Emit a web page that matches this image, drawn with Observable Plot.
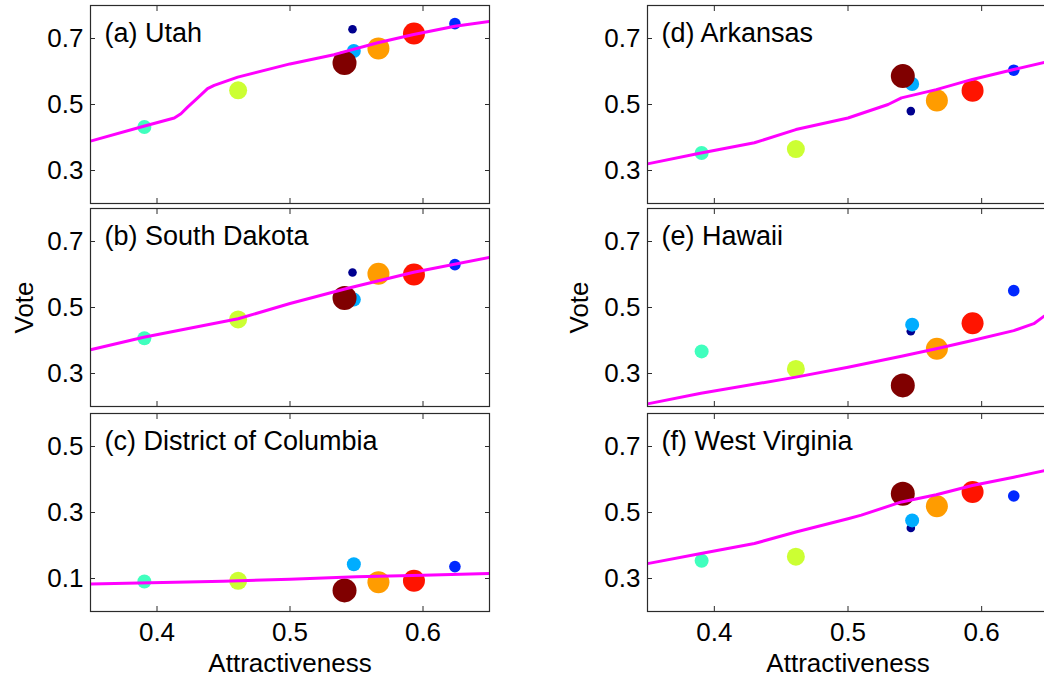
<!DOCTYPE html>
<html><head><meta charset="utf-8">
<script src="https://cdn.jsdelivr.net/npm/d3@7"></script>
<script src="https://cdn.jsdelivr.net/npm/@observablehq/plot@0.6"></script>
<style>
body{margin:0;background:#fff;}
#fig{position:relative;width:1044px;height:681px;overflow:hidden;background:#fff;}
#fig svg{position:absolute;}
</style></head><body><div id="fig"></div>
<script>
// Groups (drawn in this order; later ones on top)
const groups = ["g1","g2","g3","g4","g5","g6","g7","g8"];
const groupColors = ["#00008f","#0028ff","#00adff","#40ffbe","#ccff33","#ff9c00","#ff1400","#800000"];
const attractiveness = [0.547, 0.624, 0.548, 0.3905, 0.461, 0.5665, 0.5932, 0.541];
const markerSize = [4.3, 5.8, 7, 7, 9, 11, 11, 12];

const xTicks = [0.4, 0.5, 0.6];
const yTicksMain = [0.3, 0.5, 0.7];
const yTicksDC = [0.1, 0.3, 0.5];

// Observed votes per state (same group order)
const voteUtah = [0.728, 0.745, 0.662, 0.432, 0.543, 0.670, 0.715, 0.626];
const voteSouthDakota = [0.606, 0.630, 0.524, 0.407, 0.464, 0.602, 0.600, 0.529];
const voteDC = [0.142, 0.136, 0.143, 0.091, 0.093, 0.089, 0.093, 0.064];
const voteArkansas = [0.480, 0.604, 0.562, 0.353, 0.365, 0.512, 0.542, 0.586];
const voteHawaii = [0.428, 0.551, 0.448, 0.367, 0.314, 0.375, 0.452, 0.264];
const voteWestVirginia = [0.453, 0.550, 0.476, 0.354, 0.366, 0.519, 0.562, 0.557];

// Fitted curves (magenta)
const fitUtahX = [0.35, 0.39, 0.413, 0.418, 0.423, 0.4306, 0.438, 0.443, 0.4607, 0.5, 0.533, 0.566, 0.593, 0.624, 0.65];
const fitUtahY = [0.389, 0.434, 0.459, 0.472, 0.492, 0.520, 0.548, 0.558, 0.583, 0.623, 0.651, 0.687, 0.712, 0.737, 0.752];
const fitSouthDakotaX = [0.35, 0.39, 0.461, 0.5, 0.542, 0.593, 0.65];
const fitSouthDakotaY = [0.372, 0.410, 0.466, 0.512, 0.557, 0.607, 0.652];
const fitDCX = [0.35, 0.45, 0.5, 0.55, 0.6, 0.65];
const fitDCY = [0.083, 0.092, 0.098, 0.105, 0.110, 0.115];
const fitArkansasX = [0.35, 0.39, 0.43, 0.461, 0.5, 0.53, 0.54, 0.566, 0.593, 0.624, 0.6475, 0.65];
const fitArkansasY = [0.320, 0.353, 0.384, 0.424, 0.459, 0.500, 0.520, 0.545, 0.576, 0.606, 0.628, 0.630];
const fitHawaiiX = [0.35, 0.39, 0.461, 0.5, 0.54, 0.566, 0.593, 0.624, 0.639, 0.6475, 0.65];
const fitHawaiiY = [0.208, 0.240, 0.289, 0.319, 0.352, 0.375, 0.400, 0.430, 0.451, 0.476, 0.49];
const fitWestVirginiaX = [0.35, 0.39, 0.43, 0.461, 0.5, 0.51, 0.54, 0.566, 0.593, 0.624, 0.6475, 0.65];
const fitWestVirginiaY = [0.345, 0.376, 0.406, 0.441, 0.481, 0.492, 0.532, 0.554, 0.582, 0.607, 0.627, 0.629];

const panels = [
  {label: "(a) Utah", votes: voteUtah, fx: fitUtahX, fy: fitUtahY, yDomain: [0.2, 0.8], yTicks: yTicksMain, col: 0, row: 0},
  {label: "(b) South Dakota", votes: voteSouthDakota, fx: fitSouthDakotaX, fy: fitSouthDakotaY, yDomain: [0.2, 0.8], yTicks: yTicksMain, col: 0, row: 1},
  {label: "(c) District of Columbia", votes: voteDC, fx: fitDCX, fy: fitDCY, yDomain: [0, 0.6], yTicks: yTicksDC, col: 0, row: 2},
  {label: "(d) Arkansas", votes: voteArkansas, fx: fitArkansasX, fy: fitArkansasY, yDomain: [0.2, 0.8], yTicks: yTicksMain, col: 1, row: 0},
  {label: "(e) Hawaii", votes: voteHawaii, fx: fitHawaiiX, fy: fitHawaiiY, yDomain: [0.2, 0.8], yTicks: yTicksMain, col: 1, row: 1},
  {label: "(f) West Virginia", votes: voteWestVirginia, fx: fitWestVirginiaX, fy: fitWestVirginiaY, yDomain: [0.2, 0.8], yTicks: yTicksMain, col: 1, row: 2}
];

const colLeft = [89.5, 646.5];
const colW = [399, 401];
const rowTop = [5, 208.3, 412.7];
const plotH = 198;
const mL = 90, mR = 10, mT = 5;
const fig = document.getElementById("fig");
const fmt = d3.format(".1f");
const blank = () => "";

for (const p of panels) {
  const bottom = p.row === 2;
  const mB = bottom ? 70 : 4;
  const w = colW[p.col];
  const idx = groups.map((g, i) => i);
  const fit = p.fx.map((x, i) => ({x, y: p.fy[i]}));
  const svg = Plot.plot({
    width: mL + w + mR,
    height: mT + plotH + mB,
    marginLeft: mL, marginRight: mR, marginTop: mT, marginBottom: mB,
    style: {background: "transparent", fontFamily: "'Liberation Sans', Arial, sans-serif", fontSize: "26px", color: "#000", overflow: "visible"},
    x: {domain: [0.35, 0.65]},
    y: {domain: p.yDomain},
    r: {type: "identity"},
    color: {type: "identity"},
    marks: [
      Plot.dot(idx, {x: i => attractiveness[i], y: i => p.votes[i], r: i => markerSize[i], fill: i => groupColors[i], sort: null}),
      Plot.line(fit, {x: "x", y: "y", stroke: "#ff00ff", strokeWidth: 3, clip: true}),
      Plot.frame({stroke: "#2b2b2b", strokeWidth: 1.2}),
      Plot.axisX(xTicks, {anchor: "bottom", tickSize: -5, tickPadding: 16, tickFormat: bottom ? fmt : blank,
        label: bottom ? "Attractiveness" : null, labelAnchor: "center", labelOffset: 60, labelArrow: "none", stroke: "#2b2b2b", fill: "#000"}),
      Plot.axisX(xTicks, {anchor: "top", tickSize: -5, tickFormat: blank, label: null, stroke: "#2b2b2b"}),
      Plot.axisY(p.yTicks, {anchor: "left", tickSize: -5, tickPadding: 12, tickFormat: fmt,
        label: p.row === 1 ? "Vote" : null, labelAnchor: "center", labelOffset: p.col === 0 ? 76 : 78, labelArrow: "none", stroke: "#2b2b2b", fill: "#000"}),
      Plot.axisY(p.yTicks, {anchor: "right", tickSize: -5, tickFormat: blank, label: null, stroke: "#2b2b2b"}),
      Plot.text([p.label], {frameAnchor: "top-left", dx: 14, dy: 17, fontSize: 27, fill: "#000", text: d => d})
    ]
  });
  svg.style.left = (colLeft[p.col] - mL) + "px";
  svg.style.top = (rowTop[p.row] - mT) + "px";
  fig.appendChild(svg);
}
</script>
</body></html>
